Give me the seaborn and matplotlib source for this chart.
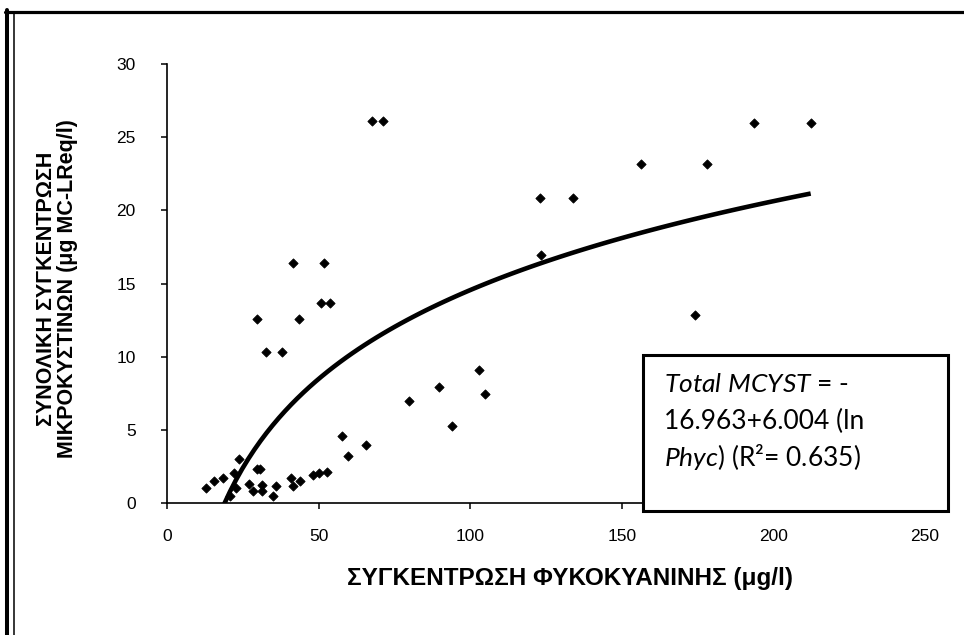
import numpy as np
import pandas as pd
import matplotlib
matplotlib.use("Agg")
import matplotlib.pyplot as plt
import seaborn as sns
from matplotlib.patches import Rectangle
from matplotlib.lines import Line2D

# ---- data ----
phyc = [12.7, 15.5, 18.6, 20.7, 22.0, 22.7, 23.8, 27.0, 28.4, 29.7, 30.6, 31.2,
        31.3, 29.7, 32.8, 35.0, 35.8, 37.9, 40.8, 41.4, 41.6, 43.6, 43.8, 48.1,
        50.1, 50.7, 51.7, 52.8, 53.9, 57.7, 59.6, 65.5, 67.5, 71.3, 79.9, 89.8,
        93.9, 102.9, 105.0, 123.0, 123.3, 134.0, 156.3, 174.0, 178.2, 193.7, 212.3]
mcyst = [1.03, 1.49, 1.71, 0.48, 2.08, 1.00, 3.00, 1.33, 0.81, 2.35, 2.35, 1.26,
         0.81, 12.6, 10.34, 0.48, 1.17, 10.34, 1.71, 1.17, 16.4, 12.6, 1.49, 1.90,
         2.07, 13.66, 16.4, 2.12, 13.66, 4.60, 3.21, 3.93, 26.1, 26.1, 6.99, 7.90,
         5.29, 9.07, 7.43, 20.85, 16.92, 20.85, 23.2, 12.83, 23.2, 25.98, 25.98]

x_ticks = [0, 50, 100, 150, 200, 250]
y_ticks = [0, 5, 10, 15, 20, 25, 30]
x_label = "ΣΥΓΚΕΝΤΡΩΣΗ ΦΥΚΟΚΥΑΝΙΝΗΣ (μg/l)"
y_label = "ΣΥΝΟΛΙΚΗ ΣΥΓΚΕΝΤΡΩΣΗ\nΜΙΚΡΟΚΥΣΤΙΝΩΝ (μg MC-LReq/l)"
eq_lines = [r"$\mathit{Total\ MCYST}$ = -",
            "16.963+6.004 (ln",
            r"$\mathit{Phyc)}$ (R²= 0.635)"]

sns.set_theme(style="white")
plt.rcParams["font.family"] = ["Liberation Sans", "DejaVu Sans"]
plt.rcParams["mathtext.fontset"] = "custom"
plt.rcParams["mathtext.it"] = "Lato:italic"
plt.rcParams["mathtext.rm"] = "Lato"

W, H = 964, 635
fig = plt.figure(figsize=(W / 100, H / 100), dpi=100)
fig.patch.set_facecolor("white")
ax = fig.add_axes([167 / W, 1 - 503 / H, 758 / W, 439 / H])

df = pd.DataFrame({"phyc": phyc, "mcyst": mcyst})
sns.regplot(data=df, x="phyc", y="mcyst", logx=True, ci=None, scatter=False,
            truncate=True, line_kws=dict(color="black", lw=3.3,
                                          solid_capstyle="butt"), ax=ax)
sns.scatterplot(data=df, x="phyc", y="mcyst", marker="D", s=22, color="black",
                edgecolor="black", linewidth=0.6, ax=ax, zorder=3, legend=False)

ax.set_xlim(0, 250)
ax.set_ylim(0, 30)
ax.set_xticks(x_ticks)
ax.set_yticks(y_ticks)
for s in ["top", "right"]:
    ax.spines[s].set_visible(False)
for s in ["left", "bottom"]:
    ax.spines[s].set_color("black")
    ax.spines[s].set_linewidth(1.2)
ax.tick_params(axis="both", direction="out", length=4.5, width=1.1,
               colors="black", labelsize=12.5, bottom=True, left=True)
ax.tick_params(axis="y", pad=18)
ax.tick_params(axis="x", pad=14)

ax.set_xlabel(x_label, fontsize=17.5, fontweight="bold", color="black")
ax.set_ylabel(y_label, fontsize=15.5, fontweight="bold", color="black",
              linespacing=1.0)
ax.xaxis.label.set_va("center")
ax.yaxis.label.set_va("center")
ax.xaxis.set_label_coords((570 - 167) / 758, (503 - 579) / 439)
ax.yaxis.set_label_coords((57 - 167) / 758, (503 - 289) / 439)

# equation box
rect = Rectangle((643 / W, 1 - 511 / H), (948 - 643) / W, (511 - 355) / H,
                 transform=fig.transFigure, fill=True, facecolor="white",
                 edgecolor="black", linewidth=2.2, zorder=5)
fig.patches.append(rect)
for txt, yp in zip(eq_lines, [385, 421, 457]):
    fig.text(664 / W, 1 - yp / H, txt, fontsize=19, family="Lato",
             ha="left", va="center", color="black", zorder=6)

# outer frame
fig.add_artist(Line2D([5 / W, 1], [1 - 11.5 / H, 1 - 11.5 / H],
                      transform=fig.transFigure, color="black", lw=2.3))
fig.add_artist(Line2D([7 / W, 7 / W], [1 - 10 / H, 0],
                      transform=fig.transFigure, color="black", lw=2.9))
fig.add_artist(Line2D([13.5 / W, 13.5 / W], [1 - 13 / H, 0],
                      transform=fig.transFigure, color="black", lw=1.1))

fig.savefig("out.png", dpi=100)
